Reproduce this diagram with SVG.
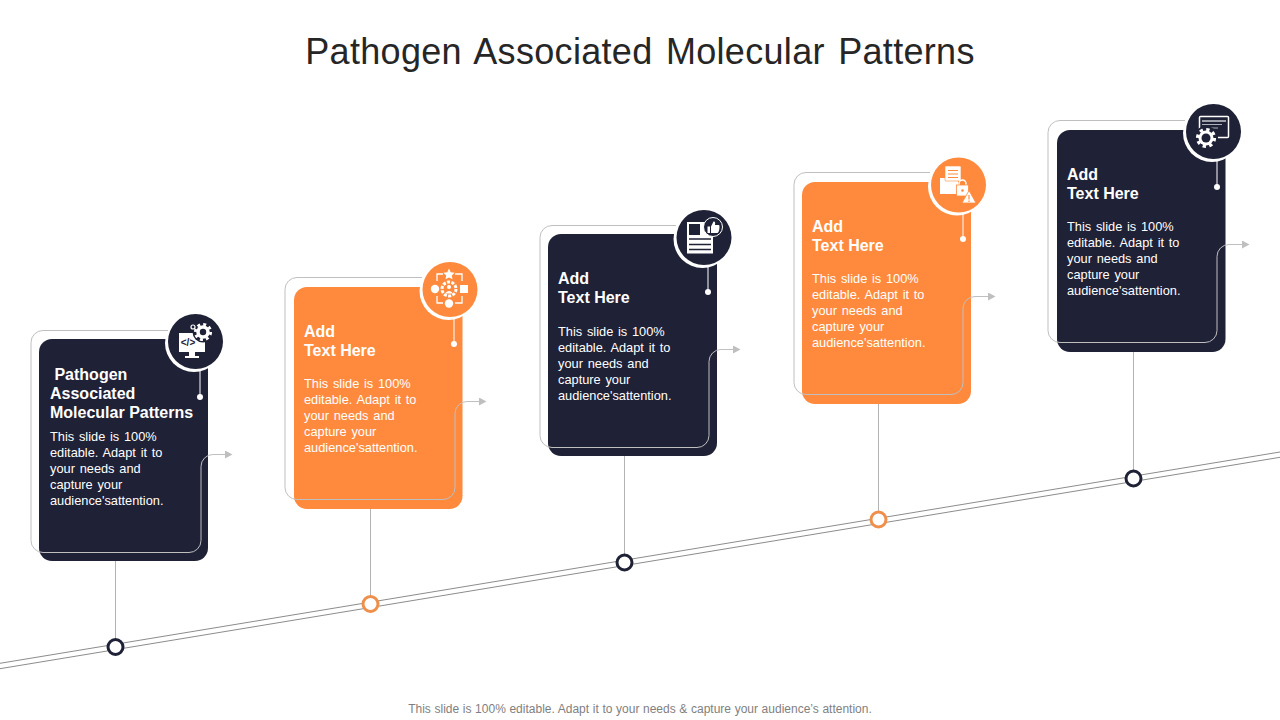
<svg xmlns="http://www.w3.org/2000/svg" width="1280" height="720" viewBox="0 0 1280 720">
<style>
text{font-family:"Liberation Sans",Arial,sans-serif}
.title{font-size:36px;fill:#262626;text-anchor:middle;word-spacing:3px;letter-spacing:.32px}
.foot{font-size:12px;fill:#7f7f7f;text-anchor:middle;word-spacing:.3px}
.h{font-size:16px;font-weight:700;fill:#fff}
.b{font-size:12.8px;fill:#fff;word-spacing:1.2px}
.dark{fill:#1f2136}
.org{fill:#ff8a3d}
.ring{fill:#fff}
.stem{stroke:#fff;stroke-width:1;fill:none}
.dot{fill:#fff}
.track{stroke:#8c8c8c;stroke-width:1;fill:none}
.out{stroke:#bfbfbf;stroke-width:1;fill:none}
.mk{fill:#fff;stroke-width:3}
.md{stroke:#1f2136}
.mo{stroke:#ef8f4c}
.w{fill:#fff}
.wl{stroke:#fff;fill:none;stroke-width:1.300}
</style>
<defs>
<marker id="arr" markerUnits="userSpaceOnUse" markerWidth="8" markerHeight="8" refX="0" refY="4" orient="auto"><path d="M0 0L7.500 4L0 8Z" fill="#bfbfbf"/></marker>
<g id="gear"><circle r="7.500" fill="#fff"/><circle r="8.500" fill="none" stroke="#fff" stroke-width="3.200" stroke-dasharray="3.300 3.370"/></g>
</defs>
<text class="title" x="640" y="64">Pathogen Associated Molecular Patterns</text>

<g id="node1">
<rect class="dark" x="39" y="339" width="169" height="222" rx="13"/>
<path class="stem" d="M200 368V397"/><circle class="dot" cx="200" cy="397" r="3"/>
<text class="h"><tspan x="50" y="380" xml:space="preserve"> Pathogen</tspan><tspan x="50" y="399">Associated</tspan><tspan x="50" y="418">Molecular Patterns</tspan></text>
<text class="b"><tspan x="50" y="441">This slide is 100%</tspan><tspan x="50" y="457">editable. Adapt it to</tspan><tspan x="50" y="473">your needs and</tspan><tspan x="50" y="489">capture your</tspan><tspan x="50" y="505">audience'sattention.</tspan></text>
<circle class="ring" cx="194" cy="343" r="29"/><circle class="dark" cx="195.500" cy="341.500" r="27.500"/>
<path class="w" d="M179 333H205V352H179Z"/><path class="w" d="M189 352H195V356H199V358H185V356H189Z"/>
<text x="188" y="345.500" font-size="10" font-weight="700" fill="#1f2136" text-anchor="middle">&lt;/&gt;</text>
<circle cx="203" cy="332" r="10.500" fill="#1f2136"/><use href="#gear" x="203" y="332" transform="translate(20.300 33.200) scale(.9)"/><circle cx="203" cy="332" r="3.200" fill="#1f2136"/>
<circle cx="193" cy="327" r="2" fill="none" stroke="#fff" stroke-width="1.200"/>
</g>

<g id="node2">
<rect class="org" x="294" y="287" width="168.500" height="222" rx="13"/>
<path class="stem" d="M454 316V344"/><circle class="dot" cx="454" cy="344" r="3"/>
<text class="h"><tspan x="304" y="337">Add</tspan><tspan x="304" y="356">Text Here</tspan></text>
<text class="b"><tspan x="304" y="388">This slide is 100%</tspan><tspan x="304" y="404">editable. Adapt it to</tspan><tspan x="304" y="420">your needs and</tspan><tspan x="304" y="436">capture your</tspan><tspan x="304" y="452">audience'sattention.</tspan></text>
<circle class="ring" cx="448.500" cy="291" r="29"/><circle class="org" cx="450" cy="289.500" r="27.500"/>
<path class="wl" d="M437 281V274H443M455 274H462V281M437 296V303H443M455 303H462V296"/>
<path class="w" d="M449 268.500L450.700 272.200L454.700 272.700L451.800 275.400L452.500 279.300L449 277.400L445.500 279.300L446.200 275.400L443.300 272.700L447.300 272.200Z"/>
<circle class="w" cx="435" cy="289" r="4.200"/><rect class="w" x="460" y="285" width="8" height="8"/><circle class="w" cx="449" cy="303.500" r="4.200"/>
<circle cx="449" cy="289" r="7" fill="none" stroke="#fff" stroke-width="3" stroke-dasharray="3 1.400"/><circle class="w" cx="449" cy="287" r="2"/><path class="w" d="M445.500 293.500C446 290 452 290 452.500 293.500Z"/>
</g>

<g id="node3">
<rect class="dark" x="548" y="234" width="169" height="222" rx="13"/>
<path class="stem" d="M708 264V292"/><circle class="dot" cx="708" cy="292" r="3"/>
<text class="h"><tspan x="558" y="284">Add</tspan><tspan x="558" y="303">Text Here</tspan></text>
<text class="b"><tspan x="558" y="336">This slide is 100%</tspan><tspan x="558" y="352">editable. Adapt it to</tspan><tspan x="558" y="368">your needs and</tspan><tspan x="558" y="384">capture your</tspan><tspan x="558" y="400">audience'sattention.</tspan></text>
<circle class="ring" cx="702.500" cy="239" r="29"/><circle class="dark" cx="704" cy="237.500" r="27.500"/>
<rect class="w" x="687" y="222" width="26" height="31.500"/><rect class="dark" x="689" y="224" width="11" height="11"/>
<path d="M689 239H711M689 244.500H711M689 249.500H711" stroke="#1f2136" stroke-width="1.600" fill="none"/>
<circle cx="713" cy="227" r="9.500" fill="#1f2136" stroke="#fff" stroke-width="1"/>
<path class="w" d="M707.500 226.500H710V233H707.500ZM711 226.500L713.500 221.500C715 221 715.500 222.500 715 225H719C720 225.500 719.500 232 717.500 233H711Z"/>
</g>

<g id="node4">
<rect class="org" x="802" y="182" width="169" height="222" rx="13"/>
<path class="stem" d="M963 212V239"/><circle class="dot" cx="963" cy="239" r="3"/>
<text class="h"><tspan x="812" y="232">Add</tspan><tspan x="812" y="251">Text Here</tspan></text>
<text class="b"><tspan x="812" y="283">This slide is 100%</tspan><tspan x="812" y="299">editable. Adapt it to</tspan><tspan x="812" y="315">your needs and</tspan><tspan x="812" y="331">capture your</tspan><tspan x="812" y="347">audience'sattention.</tspan></text>
<circle class="ring" cx="957" cy="186.500" r="29"/><circle class="org" cx="958.500" cy="185" r="27.500"/>
<path class="w" d="M940 178H952L954 180H958V194H940Z"/>
<rect class="w" x="945" y="166" width="16" height="15" rx="1" stroke="#ff8a3d" stroke-width=".6"/>
<path d="M948 170.500H958M948 174H958M948 177.500H958" stroke="#ff8a3d" stroke-width="1" fill="none"/>
<path d="M959 186V183.500a3.500 3.500 0 0 1 7 0V186" fill="none" stroke="#fff" stroke-width="1.500"/>
<rect class="w" x="956.500" y="185" width="12" height="11" stroke="#ff8a3d" stroke-width=".8"/><circle cx="962.500" cy="190.500" r="1.300" fill="#ff8a3d"/>
<path class="w" d="M969 190.500L976 203H962Z" stroke="#ff8a3d" stroke-width=".8"/><path d="M969 195V199.500M969 200.500V202" stroke="#ff8a3d" stroke-width="1.200"/>
</g>

<g id="node5">
<rect class="dark" x="1057" y="130" width="168.500" height="222" rx="13"/>
<path class="stem" d="M1217 159V187"/><circle class="dot" cx="1217" cy="187" r="3"/>
<text class="h"><tspan x="1067" y="180">Add</tspan><tspan x="1067" y="199">Text Here</tspan></text>
<text class="b"><tspan x="1067" y="231">This slide is 100%</tspan><tspan x="1067" y="247">editable. Adapt it to</tspan><tspan x="1067" y="263">your needs and</tspan><tspan x="1067" y="279">capture your</tspan><tspan x="1067" y="295">audience'sattention.</tspan></text>
<circle class="ring" cx="1212" cy="133" r="29"/><circle class="dark" cx="1213.500" cy="131.500" r="27.500"/>
<rect x="1199.500" y="116.500" width="29" height="21" rx="1" fill="none" stroke="#fff" stroke-width="1.500"/>
<path d="M1202 121H1226" stroke="#c9cad2" stroke-width="1.500"/><path d="M1202 124.500H1222M1202 128H1218" stroke="#aeb0bc" stroke-width="1.200"/>
<circle cx="1206" cy="138" r="12" fill="#1f2136"/><use href="#gear" x="1206" y="138"/><circle cx="1206" cy="138" r="4.500" fill="#1f2136"/>
</g>

<g id="connectors">
<g class="track"><path d="M0 663.300L1280 452"/><path d="M0 668.700L1280 457.300"/></g>
<g stroke="#b3b3b3" stroke-width="1" fill="none"><path d="M115.500 561V640"/><path d="M370.500 509V597"/><path d="M624.500 456V555"/><path d="M878.500 404V512"/><path d="M1133.500 352V471"/></g>
<g class="out">
<path marker-end="url(#arr)" d="M168 330.500H43a12 12 0 0 0 -12 12V540.500a12 12 0 0 0 12 12H189a12 12 0 0 0 12 -12V466.500a12 12 0 0 1 12 -12H225"/>
<path marker-end="url(#arr)" d="M422 277.500H297a12 12 0 0 0 -12 12V487.500a12 12 0 0 0 12 12H443a12 12 0 0 0 12 -12V413.500a12 12 0 0 1 12 -12H479"/>
<path marker-end="url(#arr)" d="M676 225.500H552a12 12 0 0 0 -12 12V435.500a12 12 0 0 0 12 12H697a12 12 0 0 0 12 -12V361.500a12 12 0 0 1 12 -12H733"/>
<path marker-end="url(#arr)" d="M930 172.500H806a12 12 0 0 0 -12 12V382.500a12 12 0 0 0 12 12H951a12 12 0 0 0 12 -12V308.500a12 12 0 0 1 12 -12H988"/>
<path marker-end="url(#arr)" d="M1185 120.500H1060a12 12 0 0 0 -12 12V330.500a12 12 0 0 0 12 12H1205a12 12 0 0 0 12 -12V256.500a12 12 0 0 1 12 -12H1242"/>
</g>
</g>

<g id="markers">
<circle class="mk md" cx="115.500" cy="647" r="7.500"/>
<circle class="mk mo" cx="370.500" cy="604" r="7.500"/>
<circle class="mk md" cx="624.500" cy="562.500" r="7.500"/>
<circle class="mk mo" cx="878.500" cy="519.500" r="7.500"/>
<circle class="mk md" cx="1133.500" cy="478.500" r="7.500"/>
</g>
<text class="foot" x="640" y="713">This slide is 100% editable. Adapt it to your needs &amp; capture your audience’s attention.</text>
</svg>
